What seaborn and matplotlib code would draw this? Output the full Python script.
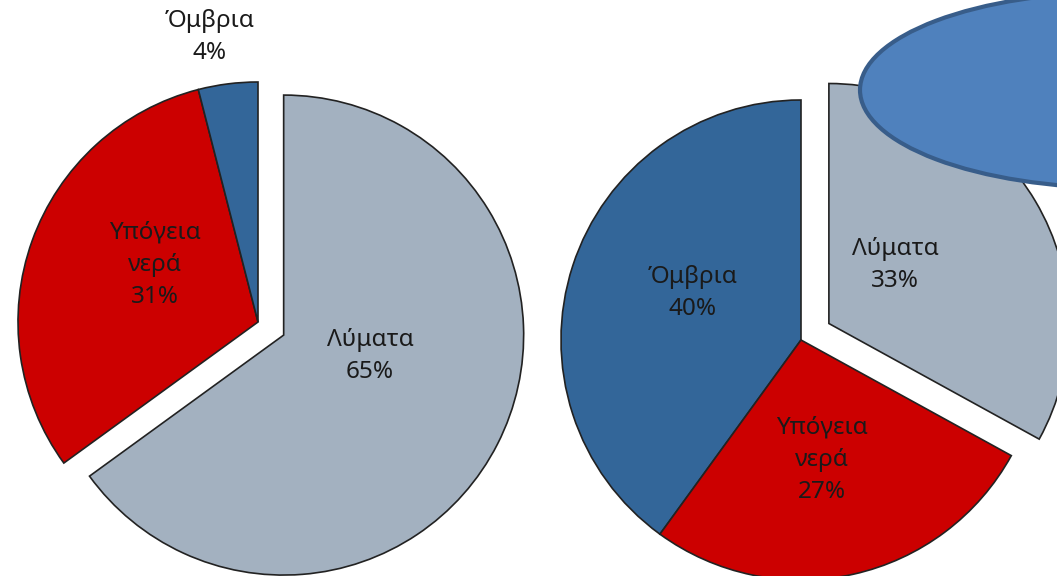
import matplotlib
matplotlib.use("Agg")
import matplotlib.pyplot as plt
from matplotlib.patches import Ellipse
import seaborn as sns

# ---- data ----
left_labels = ["Λύματα", "Υπόγεια\nνερά", "Όμβρια"]
left_values = [65, 31, 4]
right_labels = ["Όμβρια", "Υπόγεια\nνερά", "Λύματα"]
right_values = [40, 27, 33]

colors = {"Λύματα": "#A3B1C0", "Υπόγεια\nνερά": "#CC0000", "Όμβρια": "#336699"}

sns.set_theme(style="white")
plt.rcParams["font.family"] = ["Noto Sans", "DejaVu Sans"]

W, H = 1057, 576
U = 240.0  # pixels per data unit (pie radius)

fig = plt.figure(figsize=(W / 100, H / 100), dpi=100)
ax = fig.add_axes([0, 0, 1, 1])


def px(x, y):
    return x / U, (H - y) / U


edge = dict(edgecolor="#222222", linewidth=1.2)

# left pie
ax.pie(left_values, colors=[colors[l] for l in left_labels],
       center=px(258, 322), radius=1.0, startangle=90, counterclock=False,
       explode=[0.12, 0, 0], wedgeprops=edge, frame=True)

# right pie
ax.pie(right_values, colors=[colors[l] for l in right_labels],
       center=px(801, 340), radius=1.0, startangle=90, counterclock=True,
       explode=[0, 0, 0.135], wedgeprops=edge, frame=True)

ax.set_xlim(0, W / U)
ax.set_ylim(0, H / U)
ax.set_aspect("auto")
ax.axis("off")

# overlapping ellipse shape
ell = Ellipse(px(1120, 90), 520 / U, 196 / U, facecolor="#4F81BD",
              edgecolor="#385D8A", linewidth=3, zorder=5, clip_on=True)
ax.add_patch(ell)

# labels
left_pos = [(370, 356), (155, 265), (210, 37)]
right_pos = [(693, 293), (822, 460), (895, 265)]
for lab, val, (x, y) in zip(left_labels, left_values, left_pos):
    ax.text(*px(x, y), f"{lab}\n{val}%", ha="center", va="center",
            fontsize=17.5, color="#1a1a1a", linespacing=1.45, zorder=4)
for lab, val, (x, y) in zip(right_labels, right_values, right_pos):
    ax.text(*px(x, y), f"{lab}\n{val}%", ha="center", va="center",
            fontsize=17.5, color="#1a1a1a", linespacing=1.45, zorder=4)

fig.savefig("out.png", dpi=100)
